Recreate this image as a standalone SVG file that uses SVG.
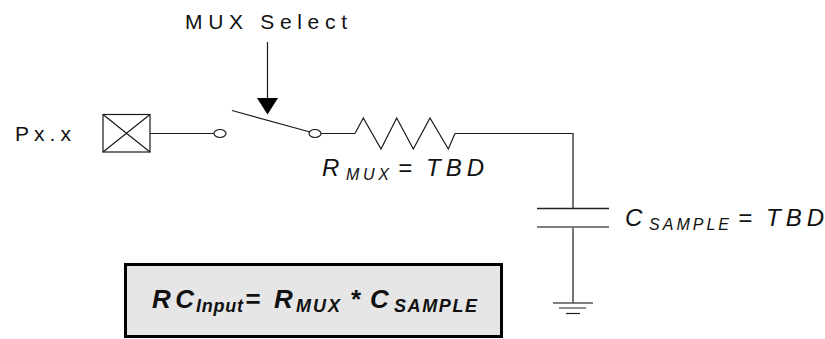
<svg xmlns="http://www.w3.org/2000/svg" width="825" height="339" viewBox="0 0 825 339">
<style>
.w{fill:none;stroke:#1a1a1a;stroke-width:1.2}
.t{font-family:"Liberation Sans",Arial,sans-serif;fill:#111}
.i{font-style:italic}
.b{font-weight:bold;font-style:italic}
</style>
<rect width="825" height="339" fill="#fff"/>
<g id="connectors">
<line class="w" x1="150" y1="133.5" x2="214" y2="133.5"/>
<line class="w" x1="321" y1="133.5" x2="355" y2="133.5"/>
<polyline class="w" points="455,133.5 573,133.5 573,208.5"/>
<line class="w" x1="573" y1="227" x2="573" y2="303"/>
<line class="w" x1="267.5" y1="42" x2="267.5" y2="99"/>
<polygon points="257,98 278,98 267.5,114.5" fill="#000"/>
</g>
<g id="pin">
<text class="t" x="15" y="140.5" font-size="21" textLength="56" lengthAdjust="spacing">Px.x</text>
<rect class="w" x="103" y="114.5" width="47" height="37.5"/>
<path class="w" d="M103,114.5 L150,152 M150,114.5 L103,152"/>
</g>
<g id="switch">
<ellipse class="w" cx="220" cy="133.5" rx="6" ry="4"/>
<line class="w" x1="232" y1="110.5" x2="310" y2="132"/>
<ellipse class="w" cx="315" cy="133.5" rx="6" ry="4"/>
<text class="t" x="185" y="29" font-size="21" textLength="162" lengthAdjust="spacing">MUX Select</text>
</g>
<g id="resistor">
<polyline class="w" points="355,133.5 363.3,118 381,149 396.7,118 413.3,149 430,118 448.3,149 455,133.5"/>
<text class="t i" x="322" y="176" font-size="24">R</text>
<text class="t i" x="346" y="180" font-size="16" textLength="43" lengthAdjust="spacing">MUX</text>
<text class="t i" x="398" y="176" font-size="24">=</text>
<text class="t i" x="426" y="176" font-size="24" textLength="58" lengthAdjust="spacing">TBD</text>
</g>
<g id="capacitor">
<line x1="537" y1="208.5" x2="609" y2="208.5" stroke="#222" stroke-width="1.5"/>
<line x1="537" y1="227" x2="609" y2="227" stroke="#808080" stroke-width="2"/>
<text class="t i" x="625" y="225.5" font-size="24">C</text>
<text class="t i" x="649" y="229.5" font-size="16" textLength="80" lengthAdjust="spacing">SAMPLE</text>
<text class="t i" x="738" y="225.5" font-size="24">=</text>
<text class="t i" x="766" y="225.5" font-size="24" textLength="58" lengthAdjust="spacing">TBD</text>
</g>
<g id="ground">
<line x1="553" y1="303" x2="593" y2="303" stroke="#555" stroke-width="1.6"/>
<line x1="559" y1="308" x2="586" y2="308" stroke="#555" stroke-width="1.3"/>
<line x1="566" y1="313.5" x2="580" y2="313.5" stroke="#222" stroke-width="1.2"/>
</g>
<g id="formula">
<rect x="125.5" y="264.5" width="376" height="72" fill="#e6e6e6" stroke="#000" stroke-width="3"/>
<text class="t b" x="152" y="308" font-size="26" textLength="42" lengthAdjust="spacing">RC</text>
<text class="t b" x="196" y="311.5" font-size="18" textLength="47" lengthAdjust="spacing">Input</text>
<text class="t b" x="245" y="308" font-size="26">=</text>
<text class="t b" x="274" y="308" font-size="26">R</text>
<text class="t b" x="296" y="311.5" font-size="18" textLength="44" lengthAdjust="spacing">MUX</text>
<text class="t b" x="350" y="308" font-size="26">*</text>
<text class="t b" x="370" y="308" font-size="26">C</text>
<text class="t b" x="394" y="311.5" font-size="18" textLength="83" lengthAdjust="spacing">SAMPLE</text>
</g>
</svg>
